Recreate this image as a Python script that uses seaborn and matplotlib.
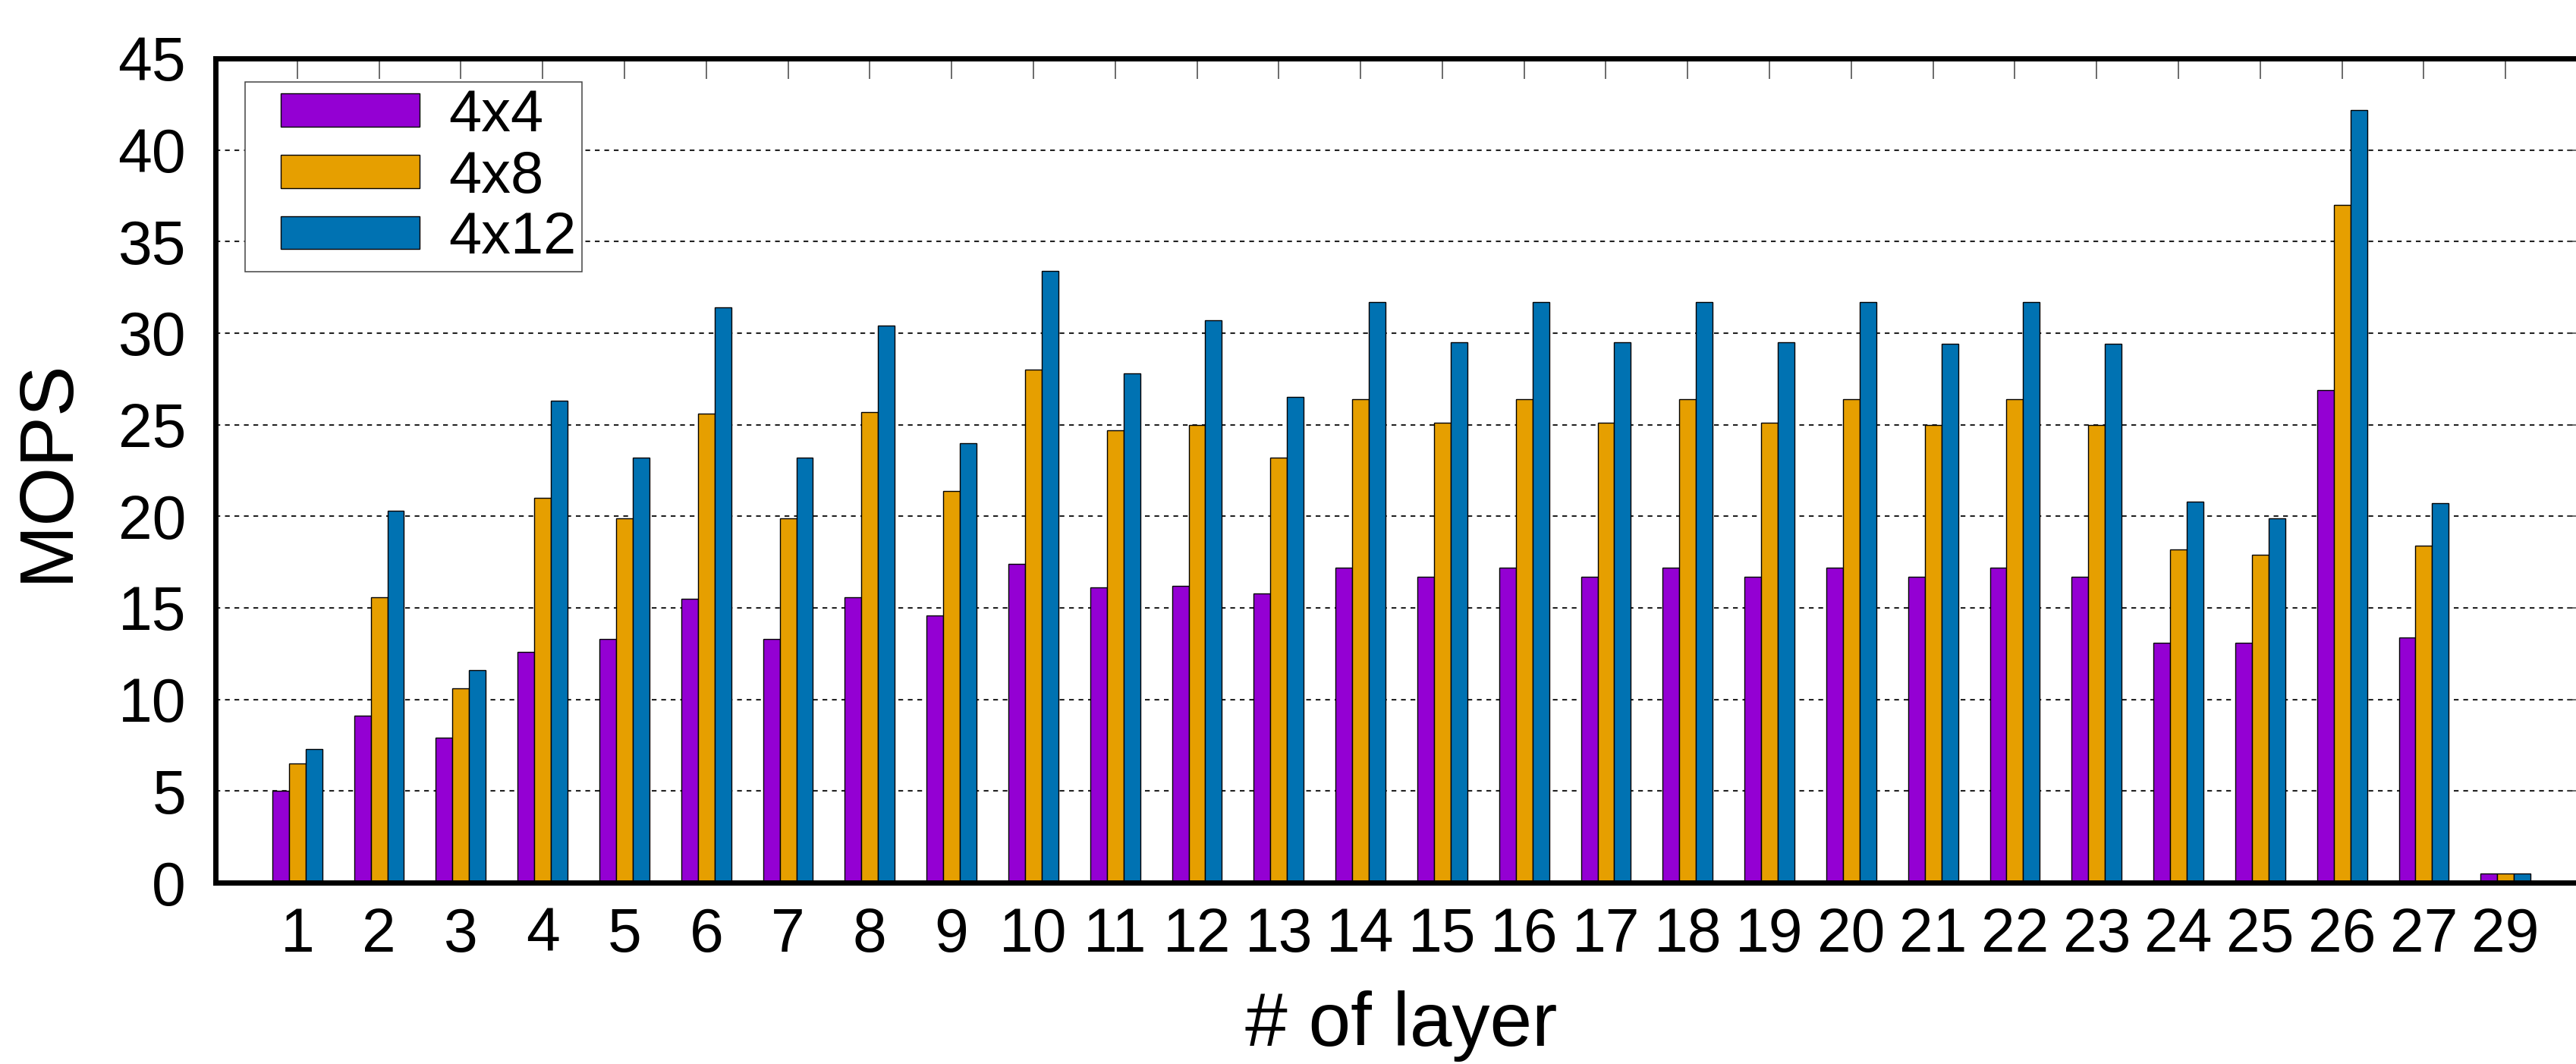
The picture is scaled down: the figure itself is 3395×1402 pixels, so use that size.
import matplotlib
matplotlib.use('Agg')
import matplotlib.pyplot as plt
from matplotlib import font_manager
from matplotlib.patches import Patch, Rectangle
from matplotlib.legend_handler import HandlerPatch
import pandas as pd
import seaborn as sns

# layer ids (28 is missing in the original data)
LAYERS = ["1", "2", "3", "4", "5", "6", "7", "8", "9", "10", "11", "12", "13", "14",
          "15", "16", "17", "18", "19", "20", "21", "22", "23", "24", "25", "26", "27", "29"]

MOPS_4x4 = [5.0, 9.1, 7.9, 12.6, 13.3, 15.5, 13.3, 15.6, 14.6, 17.4, 16.1, 16.2, 15.8, 17.2,
            16.7, 17.2, 16.7, 17.2, 16.7, 17.2, 16.7, 17.2, 16.7, 13.1, 13.1, 26.9, 13.4, 0.5]
MOPS_4x8 = [6.5, 15.6, 10.6, 21.0, 19.9, 25.6, 19.9, 25.7, 21.4, 28.0, 24.7, 25.0, 23.2, 26.4,
            25.1, 26.4, 25.1, 26.4, 25.1, 26.4, 25.0, 26.4, 25.0, 18.2, 17.9, 37.0, 18.4, 0.5]
MOPS_4x12 = [7.3, 20.3, 11.6, 26.3, 23.2, 31.4, 23.2, 30.4, 24.0, 33.4, 27.8, 30.7, 26.5, 31.7,
             29.5, 31.7, 29.5, 31.7, 29.5, 31.7, 29.4, 31.7, 29.4, 20.8, 19.9, 42.2, 20.7, 0.5]

CONFIGS = ["4x4", "4x8", "4x12"]
COLORS = {"4x4": "#9400D3", "4x8": "#E69F00", "4x12": "#0072B2"}

df = pd.concat([
    pd.DataFrame({"layer": LAYERS, "mops": vals, "config": cfg})
    for cfg, vals in zip(CONFIGS, [MOPS_4x4, MOPS_4x8, MOPS_4x12])
], ignore_index=True)

sns.set_style("white")
names = {f.name for f in font_manager.fontManager.ttflist}
NARROW = "Liberation Sans Narrow" if "Liberation Sans Narrow" in names else "Liberation Sans"
plt.rcParams["font.family"] = [NARROW, "DejaVu Sans"]
plt.rcParams["text.color"] = "black"
plt.rcParams["axes.labelcolor"] = "black"

fig = plt.figure(figsize=(33.95, 14.02), dpi=100)
ax = fig.add_axes([0.08365, 0.17047, 0.92077, 0.77461])

sns.barplot(data=df, x="layer", y="mops", hue="config", order=LAYERS,
            hue_order=CONFIGS, palette=COLORS, width=0.61, errorbar=None,
            edgecolor="black", linewidth=1.0, saturation=1, legend=False, ax=ax)

ax.set_xlim(-1, 28)
ax.set_ylim(0, 45)
ax.set_yticks(range(0, 46, 5))

ax.set_axisbelow(True)
ax.yaxis.grid(True, linestyle=(0, (3, 3)), linewidth=1.5, color="#222222")
ax.xaxis.grid(False)

for side in ["left", "right", "top", "bottom"]:
    ax.spines[side].set_visible(True)
    ax.spines[side].set_linewidth(5)
    ax.spines[side].set_color("black")

ax.tick_params(axis="both", direction="in", length=19.5, width=1.1, color="#444444",
               labelcolor="black", labelsize=58, top=True, right=True)
ax.tick_params(axis="x", pad=23)
ax.tick_params(axis="y", pad=28)

ax.set_xlabel("# of layer", fontsize=72, va="baseline")
ax.xaxis.set_label_coords(0.5, -0.198)
ax.set_ylabel("MOPS", fontsize=72, va="center", family=["Liberation Sans", "DejaVu Sans"])
ax.yaxis.set_label_coords(-0.0707, 0.5)


def shifted_patch(legend, orig_handle, xdescent, ydescent, width, height, fontsize):
    # leave a gap on the left of each swatch, like the original key
    off = 0.5 * fontsize
    return Rectangle((-xdescent + off, -ydescent), width - off, height)


handles = [Patch(facecolor=COLORS[c], edgecolor="black", linewidth=1.0, label=c) for c in CONFIGS]
leg = ax.legend(handles=handles, loc="upper left", bbox_to_anchor=(0.0125, 0.9715),
                borderaxespad=0, fontsize=56, frameon=True, fancybox=False,
                framealpha=1, edgecolor="#444444", borderpad=0.1,
                handlelength=2.85, handleheight=0.48, handletextpad=0.5,
                labelspacing=0.1,
                handler_map={Patch: HandlerPatch(patch_func=shifted_patch)})
leg.get_frame().set_linewidth(1.1)

plt.savefig("out.png", dpi=100)
plt.close()
